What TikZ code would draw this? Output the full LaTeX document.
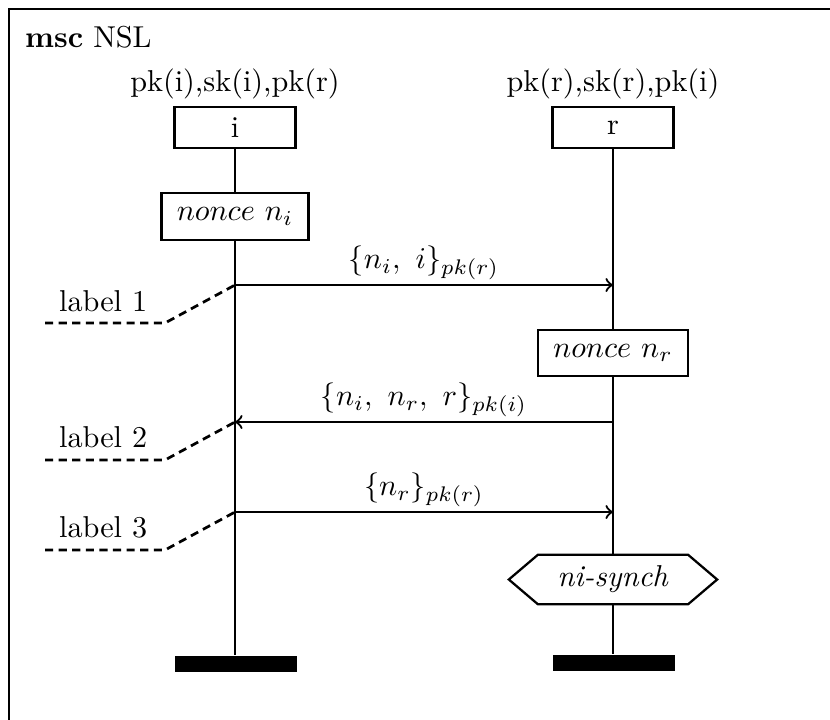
\documentclass[tikz,border=0pt]{standalone}
\usepackage{amsmath}
\usetikzlibrary{positioning}

\begin{document}
\begin{tikzpicture}[x=0.331pt, y=-0.331pt, line width=0.75pt,
    inst/.style={draw, minimum width=40pt, minimum height=13.6pt, inner sep=0pt},
    action/.style={draw, minimum height=15.4pt, inner sep=0pt},
    stopbar/.style={fill=black, minimum width=40.4pt, minimum height=5.3pt, inner sep=0pt},
    msg/.style={->},
    lbl/.style={line width=0.9pt, dash pattern=on 2.7pt off 1.8pt}]
    \useasboundingbox (0,0) rectangle (830,719);
    \clip (0,0) rectangle (830,719);

    % Frame
    \draw[line width=0.9pt] (9,9) rectangle (860,750);
    \node[anchor=base west, inner sep=0pt] (title) at (24,47) {\textbf{msc} NSL};

    % Instance i
    \node[inst] (i) at (235,127.5) {i};
    \node[above=0pt of i, inner sep=2pt] (ikeys) {pk(i),sk(i),pk(r)};
    \node[action, minimum width=48.7pt] (ni) at (235,216.5) {$nonce\ n_i$};
    \node[stopbar] (iend) at (236,664) {};

    % Instance r
    \node[inst] (r) at (613,127.5) {r};
    \node[above=0pt of r, inner sep=2pt] (rkeys) {pk(r),sk(r),pk(i)};
    \node[action, minimum width=49.7pt] (nr) at (613,353) {$nonce\ n_r$};
    \node[inner sep=0pt, minimum width=49pt, minimum height=15.6pt] (sync) at (613,579.5) {\textit{ni-synch}};
    \draw (sync.north west) -- (sync.north east) -- ([xshift=9.6pt]sync.east)
        -- (sync.south east) -- (sync.south west) -- ([xshift=-9.6pt]sync.west) -- cycle;
    \node[stopbar] (rend) at (614,663) {};

    % Lifelines
    \draw (i) -- (ni) -- (iend.north -| i);
    \draw (r) -- (nr) -- (sync) -- (rend.north -| r);

    % Messages
    \coordinate (m1i) at (235,285);
    \coordinate (m1r) at (613,285);
    \draw[msg] (m1i) -- node[above, inner sep=1.5pt] {$\{n_i,\ i\}_{pk(r)}$} (m1r);

    \coordinate (m2i) at (235,422);
    \coordinate (m2r) at (613,422);
    \draw[msg] (m2r) -- node[above, inner sep=1.5pt] {$\{n_i,\ n_r,\ r\}_{pk(i)}$} (m2i);

    \coordinate (m3i) at (235,512);
    \coordinate (m3r) at (613,512);
    \draw[msg] (m3i) -- node[above, inner sep=1.5pt] {$\{n_r\}_{pk(r)}$} (m3r);

    % Labels
    \node[anchor=base west, inner sep=0pt] (l1) at (58,311) {label 1};
    \coordinate (l1a) at (45,323);
    \coordinate (l1b) at (165,323);
    \draw[lbl] (l1a) -- (l1b) -- (m1i);

    \node[anchor=base west, inner sep=0pt] (l2) at (58,447) {label 2};
    \coordinate (l2a) at (45,460);
    \coordinate (l2b) at (165,460);
    \draw[lbl] (l2a) -- (l2b) -- (m2i);

    \node[anchor=base west, inner sep=0pt] (l3) at (58,537) {label 3};
    \coordinate (l3a) at (45,550);
    \coordinate (l3b) at (165,550);
    \draw[lbl] (l3a) -- (l3b) -- (m3i);
\end{tikzpicture}
\end{document}
